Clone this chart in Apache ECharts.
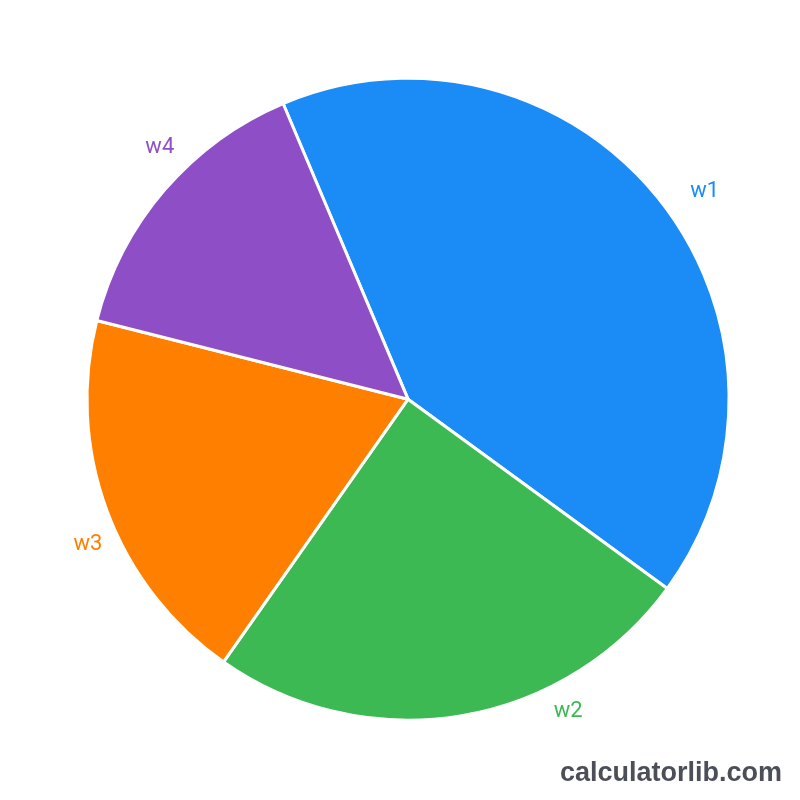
<!DOCTYPE html>
<html>
<head>
<meta charset="utf-8">
<title>Pie</title>
<script src="https://cdn.jsdelivr.net/npm/echarts@6/dist/echarts.min.js"></script>
<style>
	html, body { margin: 0; padding: 0; background: #fff; }
	#main { width: 800px; height: 800px; }
</style>
</head>
<body>
<div id="main"></div>
<script>
// slice names and shares
var categories = ['w1', 'w2', 'w3', 'w4'];
var shares = [41.4, 24.7, 19.2, 14.7];
var colors = ['#1b8cf6', '#3db954', '#ff8000', '#8e4fc6'];

// small nudges so the names sit where they are in the reference
var labelNudge = [[-5, 4], [70, -24], [34, 27], [45, -30]];

var chart = echarts.init(document.getElementById('main'));

var pieData = [];
for (var i = 0; i < categories.length; i++) {
	pieData.push({
		name : categories[i],
		value : shares[i],
		itemStyle : { color : colors[i] },
		label : { color : colors[i] }
	});
}

var option = {
	backgroundColor : '#ffffff',
	animation : false,
	series : [ {
		type : 'pie',
		center : [ '51%', '49.9%' ],
		radius : 321,
		startAngle : 112.9,
		clockwise : true,
		avoidLabelOverlap : false,
		itemStyle : {
			borderColor : '#ffffff',
			borderWidth : 3
		},
		label : {
			show : true,
			position : 'outside',
			formatter : '{b}',
			fontFamily : 'Roboto',
			fontSize : 22
		},
		labelLine : {
			show : false,
			length : 20,
			length2 : 15
		},
		labelLayout : function(params) {
			var n = labelNudge[params.dataIndex];
			return { dx : n[0], dy : n[1] };
		},
		data : pieData
	} ],
	graphic : [ {
		type : 'text',
		right : 18,
		bottom : 13,
		style : {
			text : 'calculatorlib.com',
			font : 'bold 27px "Liberation Sans", Arial, sans-serif',
			fill : '#4a4f58'
		}
	} ]
};

chart.setOption(option);
</script>
</body>
</html>
